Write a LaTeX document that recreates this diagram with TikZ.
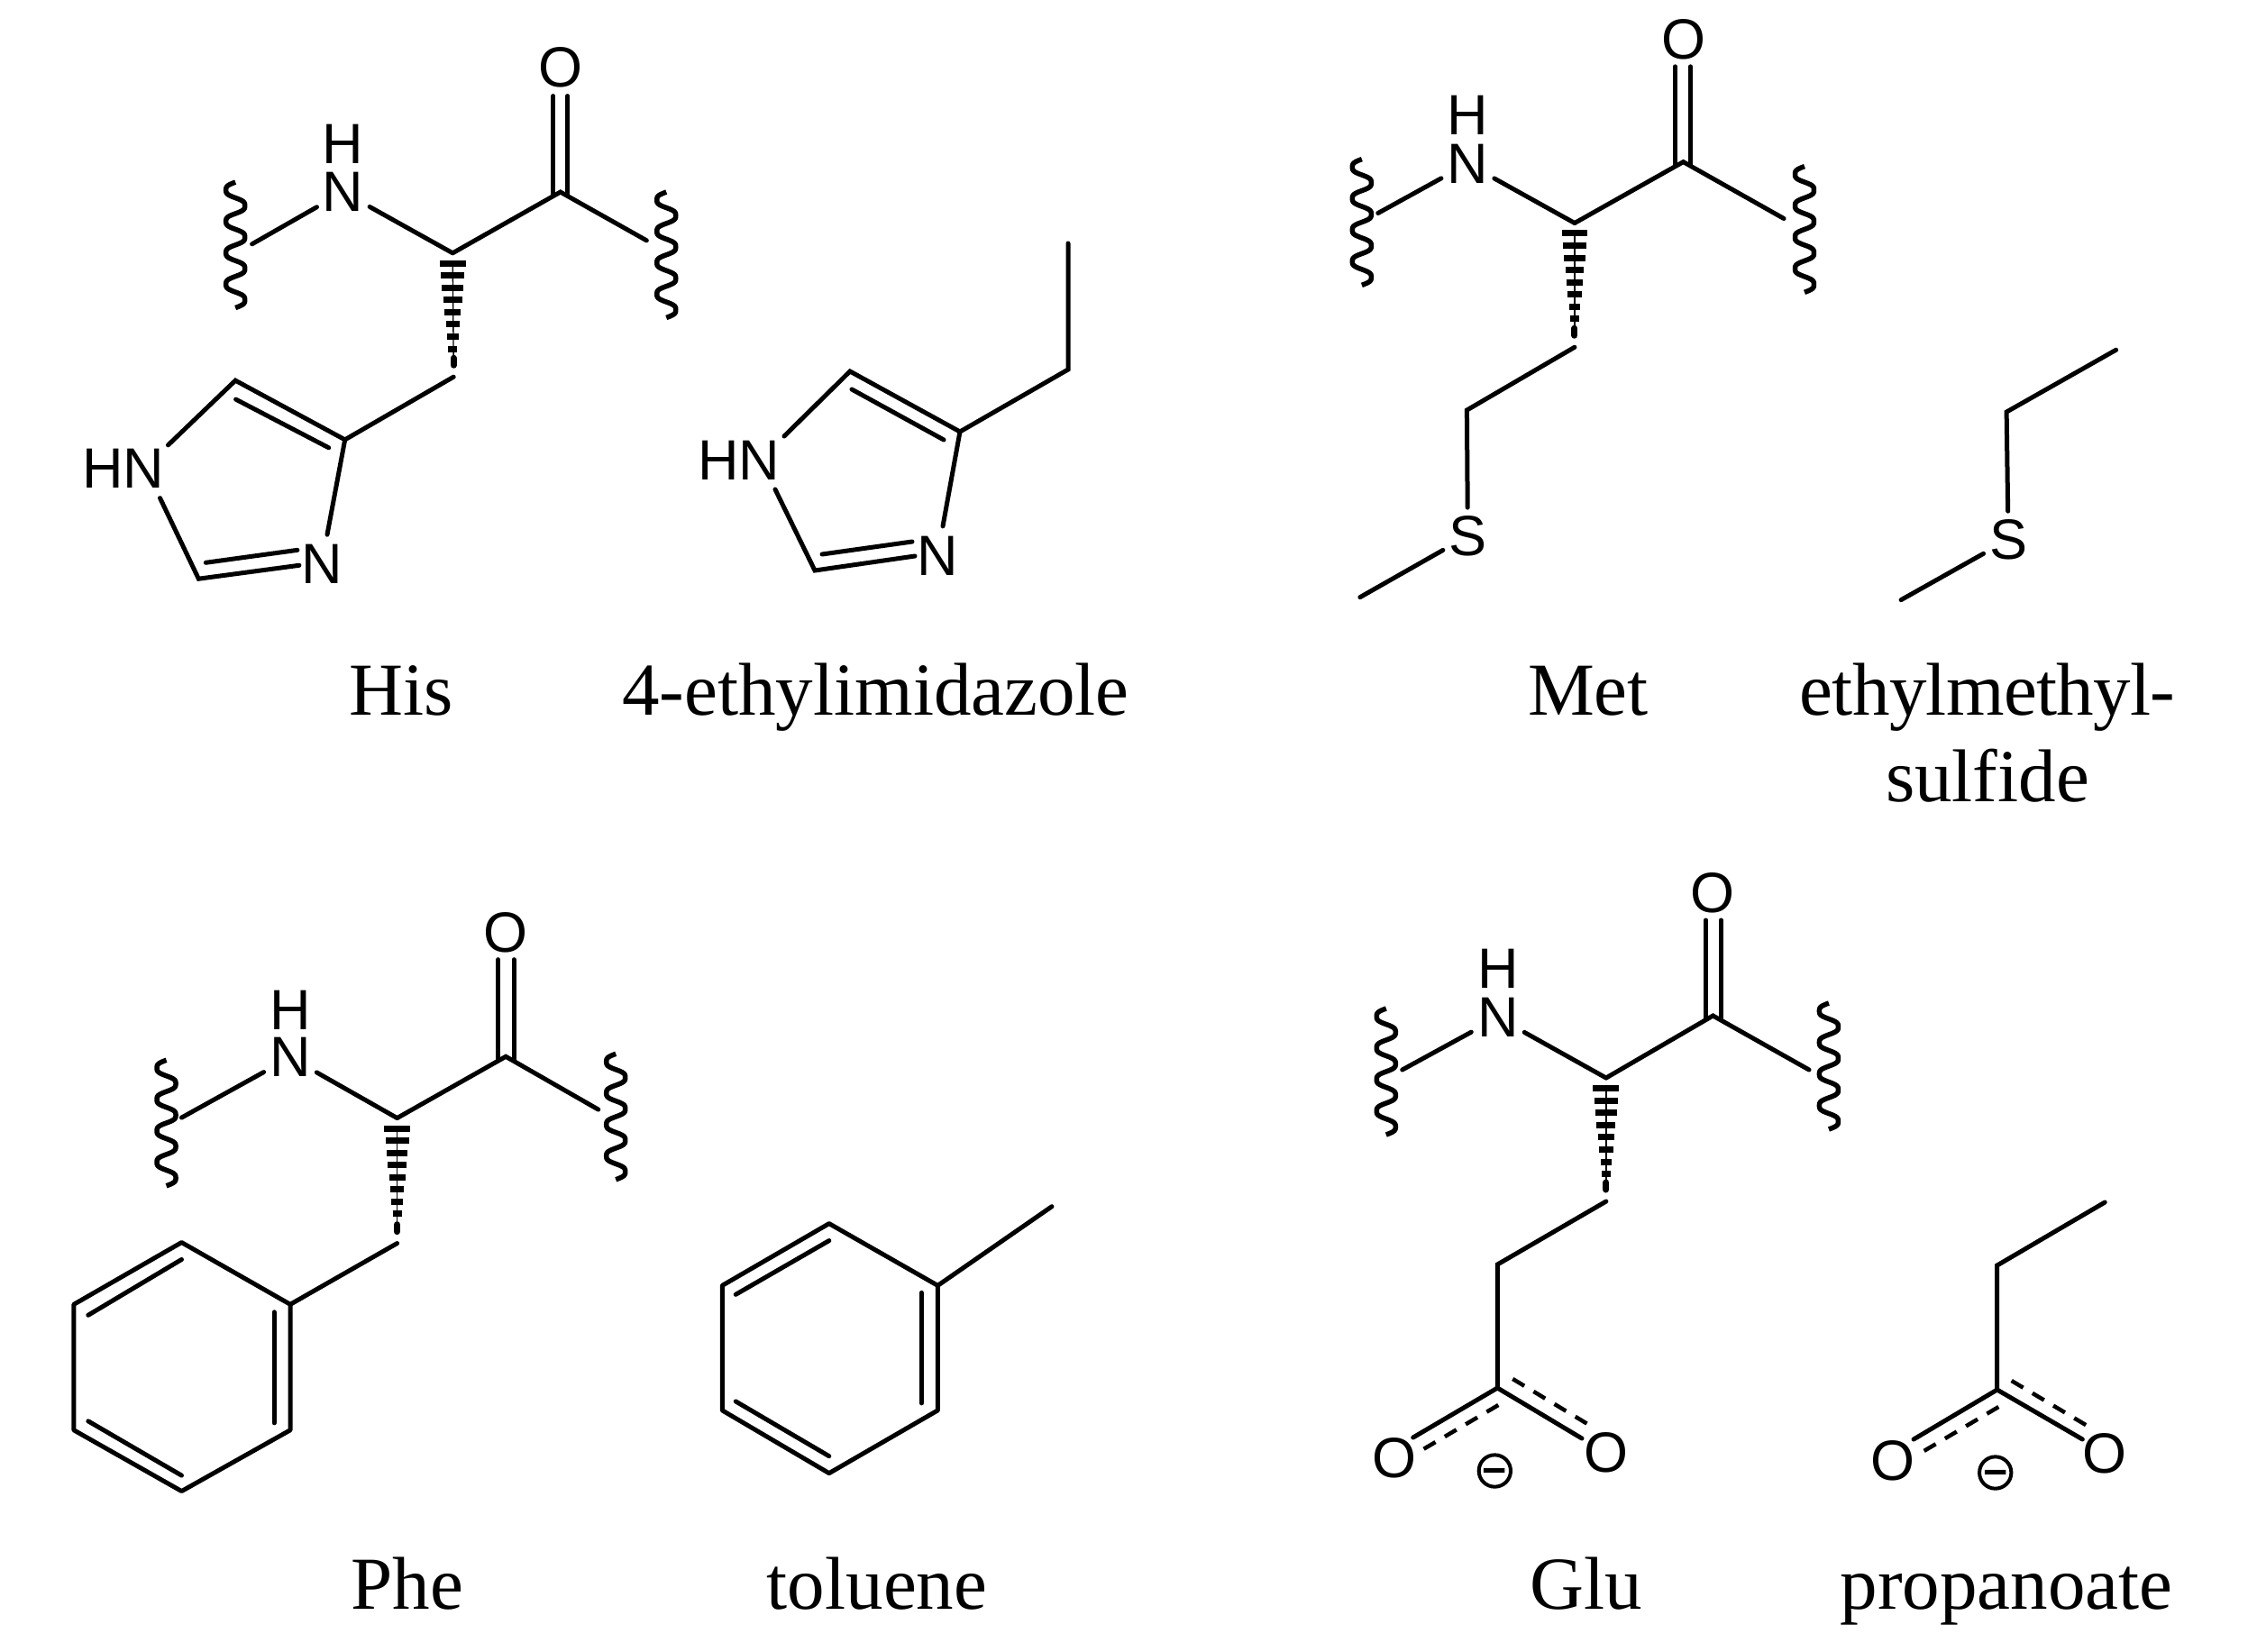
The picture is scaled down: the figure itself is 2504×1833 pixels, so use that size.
\documentclass[tikz,border=0pt]{standalone}
\usepackage{fontspec}
\setmainfont{Liberation Serif}
\newfontfamily\atomfont{Liberation Sans}
\usetikzlibrary{calc}
\tikzset{
  bond/.style={line width=1.5pt,line cap=round,line join=miter},
  dbond/.style={line width=1.35pt,dash pattern=on 4.5pt off 3.6pt},
  wavebond/.style={line width=1.65pt,line cap=butt,line join=round},
  atom/.style={circle,inner sep=0pt,minimum size=19.8pt,font=\atomfont\fontsize{18.9}{20}\selectfont},
  satom/.style={atom,minimum size=18.6pt},
  hatom/.style={inner sep=0pt,font=\atomfont\fontsize{18.9}{20}\selectfont},
  label/.style={inner sep=0pt,anchor=base,align=center,font=\fontsize{24.9}{28.8}\selectfont},
  charge/.style={circle,draw,line width=1.2pt,inner sep=0pt,minimum size=10.6pt,font=\atomfont\bfseries\fontsize{14}{14}\selectfont},
}
\newcommand{\wavebd}[3]{\draw[wavebond] plot[domain=0:1440,samples=97,smooth,variable=\a]
  ({#1-11.7*(sin(\a)+0.1*sin(3*\a))},{#2+\a/1440*(#3)});}
\newcommand{\hashbd}[2]{%
  \foreach \i in {0,...,7}{%
    \pgfmathsetmacro\hw{14.5-1.35*\i}\pgfmathsetmacro\hy{11.5+13.6*\i}%
    \fill ($(#1)+(-\hw,\hy-3.5)$) rectangle ($(#1)+(\hw,\hy+3.5)$);}%
  \draw[line width=.4pt] ($(#1)+(0,10)$) -- ($(#2)+(0,-17)$);
  \draw[line width=2.1pt,line cap=round] ($(#2)+(0,-21)$) -- ($(#2)+(0,-13)$);}
\newcommand{\chargemark}[3]{\node[charge] (#1) at (#2,#3) {\smash{\raisebox{-0.33em}{−}}};}
\begin{document}
\begin{tikzpicture}[x=0.3pt,y=-0.3pt]
\useasboundingbox (0,0) rectangle (2504,1833);

% ---------- His ----------
\begin{scope}[x=0.2988pt,y=-0.29871pt,xshift=0.072pt]
\node[atom] (hN) at (382,214) {N};
\node[hatom] (hH) at (382,161) {H};
\node[atom] (hO) at (624,75) {O};
\node[hatom] (hHN) at (137,522) {HN};
\node[atom] (hN3) at (358,629) {N};
\coordinate (hL) at (280.5,272);
\coordinate (hCa) at (504,282);
\coordinate (hC) at (624,214);
\coordinate (hR) at (720,268);
\coordinate (hCb) at (505,420);
\coordinate (hC4) at (384,490);
\coordinate (hC5) at (262,424);
\coordinate (hC2) at (221,645);
\coordinate (hHNa) at (187,496);
\coordinate (hHNb) at (178,555);
\coordinate (hNa) at (333,630);
\coordinate (hI1) at (262.4,445);
\coordinate (hI2) at (366,499);
\coordinate (hI3) at (229,627);
\coordinate (hI4) at (331,613);
\coordinate (hOa) at (616,107);
\coordinate (hOb) at (616,218);
\coordinate (hOc) at (632,107);
\coordinate (hOd) at (632,218);
\wavebd{262}{203}{140}
\wavebd{742}{214}{140}
\draw[bond] (hL) -- (hN);
\draw[bond] (hCa) -- (hN);
\draw[bond] (hCa) -- (hC) -- (hR);
\draw[bond] (hOa) -- (hOb);
\draw[bond] (hOc) -- (hOd);
\hashbd{hCa}{hCb}
\draw[bond] (hCb) -- (hC4) -- (hC5) -- (hHNa);
\draw[bond] (hC4) -- (hN3);
\draw[bond] (hHNb) -- (hC2) -- (hNa);
\draw[bond] (hI1) -- (hI2);
\draw[bond] (hI3) -- (hI4);
\end{scope}

% ---------- 4-ethylimidazole ----------
\node[hatom] (iHN) at (820,511) {HN};
\node[atom] (iN3) at (1040,617) {N};
\coordinate (iMe) at (1185,270);
\coordinate (iCb) at (1185,410);
\coordinate (iC4) at (1065,479);
\coordinate (iC5) at (943,412);
\coordinate (iC2) at (904,633);
\coordinate (iHNa) at (870,484);
\coordinate (iHNb) at (860,543);
\coordinate (iNa) at (1015,617);
\coordinate (iI1) at (945,432);
\coordinate (iI2) at (1047,488);
\coordinate (iI3) at (912,615);
\coordinate (iI4) at (1012,601);
\draw[bond] (iMe) -- (iCb) -- (iC4) -- (iC5) -- (iHNa);
\draw[bond] (iC4) -- (iN3);
\draw[bond] (iHNb) -- (iC2) -- (iNa);
\draw[bond] (iI1) -- (iI2);
\draw[bond] (iI3) -- (iI4);

% ---------- Met and ethylmethylsulfide ----------
\begin{scope}[x=0.29886pt,y=-0.2994pt,xshift=1.687pt]
\node[atom] (mN) at (1629,182) {N};
\node[hatom] (mH) at (1629,128) {H};
\node[atom] (mO) at (1869,43.5) {O};
\node[satom] (mS) at (1629,596) {S};
\coordinate (mL) at (1529,237);
\coordinate (mCa) at (1748,248);
\coordinate (mC) at (1869,180);
\coordinate (mR) at (1981,243);
\coordinate (mCb) at (1748,386);
\coordinate (mCg) at (1628,456);
\coordinate (mMe) at (1509,664);
\coordinate (mOa) at (1860,74);
\coordinate (mOb) at (1860,184);
\coordinate (mOc) at (1877,74);
\coordinate (mOd) at (1877,184);
\wavebd{1511}{177}{140}
\wavebd{2004}{185}{140}
\draw[bond] (mL) -- (mN);
\draw[bond] (mCa) -- (mN);
\draw[bond] (mCa) -- (mC) -- (mR);
\draw[bond] (mOa) -- (mOb);
\draw[bond] (mOc) -- (mOd);
\hashbd{mCa}{mCb}
\draw[bond] (mCb) -- (mCg) -- (mS);
\draw[bond] (mMe) -- (mS);

\begin{scope}[xshift=-0.6pt]
\node[satom] (eS) at (2233,600) {S};
\coordinate (eMe) at (2353,389);
\coordinate (eC) at (2231,458);
\coordinate (eMe2) at (2113.5,667);
\draw[bond] (eMe) -- (eC) -- (eS);
\draw[bond] (eMe2) -- (eS);
\end{scope}
\end{scope}

% ---------- Phe and toluene ----------
\begin{scope}[x=0.2989pt,y=-0.29892pt,xshift=0.066pt,yshift=-1.058pt]
\node[atom] (pN) at (323,1174) {N};
\node[hatom] (pH) at (323,1121) {H};
\node[atom] (pO) at (563,1035) {O};
\coordinate (pL) at (202,1241);
\coordinate (pCa) at (442,1241.5);
\coordinate (pC) at (563,1173);
\coordinate (pR) at (666,1232);
\coordinate (pCb) at (442,1381);
\coordinate (pR1) at (323,1449);
\coordinate (pR2) at (202,1380);
\coordinate (pR3) at (82,1449);
\coordinate (pR4) at (82,1589);
\coordinate (pR5) at (202,1657);
\coordinate (pR6) at (323,1589);
\coordinate (pI1) at (98,1461);
\coordinate (pI2) at (202,1399);
\coordinate (pI3) at (305,1457.5);
\coordinate (pI4) at (305,1581);
\coordinate (pI5) at (98,1579);
\coordinate (pI6) at (202,1639.5);
\coordinate (pOa) at (554.5,1065);
\coordinate (pOb) at (554.5,1177);
\coordinate (pOc) at (572,1065);
\coordinate (pOd) at (572,1177);
\wavebd{185}{1177}{140}
\wavebd{685.5}{1170}{140}
\draw[bond] (pL) -- (pN);
\draw[bond] (pCa) -- (pN);
\draw[bond] (pCa) -- (pC) -- (pR);
\draw[bond] (pOa) -- (pOb);
\draw[bond] (pOc) -- (pOd);
\hashbd{pCa}{pCb}
\draw[bond] (pCb) -- (pR1);
\draw[bond,line join=round] (pR1) -- (pR2) -- (pR3) -- (pR4) -- (pR5) -- (pR6) -- cycle;
\draw[bond] (pI1) -- (pI2);
\draw[bond] (pI3) -- (pI4);
\draw[bond] (pI5) -- (pI6);

\begin{scope}[xshift=-0.9pt]
\coordinate (tMe) at (1174,1340);
\coordinate (tR1) at (1047,1428);
\coordinate (tR2) at (926,1359);
\coordinate (tR3) at (807,1428);
\coordinate (tR4) at (807,1567);
\coordinate (tR5) at (926,1637);
\coordinate (tR6) at (1047,1567);
\coordinate (tI1) at (822,1438);
\coordinate (tI2) at (926,1378);
\coordinate (tI3) at (1029,1436);
\coordinate (tI4) at (1029,1559);
\coordinate (tI5) at (822,1557);
\coordinate (tI6) at (926,1618);
\draw[bond] (tMe) -- (tR1);
\draw[bond,line join=round] (tR1) -- (tR2) -- (tR3) -- (tR4) -- (tR5) -- (tR6) -- cycle;
\draw[bond] (tI1) -- (tI2);
\draw[bond] (tI3) -- (tI4);
\draw[bond] (tI5) -- (tI6);
\end{scope}
\end{scope}

% ---------- Glu and propanoate ----------
\begin{scope}[x=0.29886pt,xshift=1.699pt]
\node[atom] (gN) at (1662.5,1129) {N};
\node[hatom] (gH) at (1662.5,1075) {H};
\node[atom] (gO) at (1902,991) {O};
\node[atom] (gO1) at (1547,1618) {O};
\node[atom] (gO2) at (1783,1612) {O};
\chargemark{gM}{1659}{1632}
\coordinate (gL) at (1556,1187);
\coordinate (gCa) at (1783,1196);
\coordinate (gC) at (1902,1127);
\coordinate (gR) at (2009,1187);
\coordinate (gCb) at (1783,1333);
\coordinate (gCg) at (1662,1403);
\coordinate (gCd) at (1662,1540);
\coordinate (gOa) at (1894,1021);
\coordinate (gOb) at (1894,1131);
\coordinate (gOc) at (1911,1021);
\coordinate (gOd) at (1911,1131);
\coordinate (gE1) at (1568,1595);
\coordinate (gE2) at (1756,1596);
\coordinate (gD1) at (1663,1559);
\coordinate (gD2) at (1576,1610);
\coordinate (gD3) at (1679,1530);
\coordinate (gD4) at (1764,1581);
\wavebd{1538}{1119}{140}
\wavebd{2031}{1113}{140}
\draw[bond] (gL) -- (gN);
\draw[bond] (gCa) -- (gN);
\draw[bond] (gCa) -- (gC) -- (gR);
\draw[bond] (gOa) -- (gOb);
\draw[bond] (gOc) -- (gOd);
\hashbd{gCa}{gCb}
\draw[bond] (gCb) -- (gCg) -- (gCd);
\draw[bond] (gCd) -- (gE1);
\draw[bond] (gCd) -- (gE2);
\draw[dbond] (gD1) -- (gD2);
\draw[dbond] (gD3) -- (gD4);

\begin{scope}[xshift=-0.75pt]
\node[atom] (aO1) at (2104.5,1621) {O};
\node[atom] (aO2) at (2341,1613) {O};
\chargemark{aM}{2219}{1634}
\coordinate (aMe) at (2341,1334);
\coordinate (aCb) at (2221,1404);
\coordinate (aC) at (2221,1542);
\coordinate (aE1) at (2128,1597);
\coordinate (aE2) at (2316,1597);
\coordinate (aD1) at (2222.6,1561);
\coordinate (aD2) at (2136,1612);
\coordinate (aD3) at (2237,1532);
\coordinate (aD4) at (2323,1583);
\draw[bond] (aMe) -- (aCb) -- (aC);
\draw[bond] (aC) -- (aE1);
\draw[bond] (aC) -- (aE2);
\draw[dbond] (aD1) -- (aD2);
\draw[dbond] (aD3) -- (aD4);
\end{scope}
\end{scope}

% ---------- labels ----------
\node[label] (lHis) at (445,793) {His};
\node[label] (lImi) at (971.5,793) {4-ethylimidazole};
\node[label] (lMet) at (1762,793) {Met};
\node[label] (lEms) at (2205,889) {{\addfontfeature{LetterSpace=-0.8}ethylmethyl-}\\sulfide};
\node[label] (lPhe) at (452,1785) {Phe};
\node[label] (lTol) at (973,1785) {toluene};
\node[label] (lGlu) at (1760,1785) {Glu};
\node[label] (lPro) at (2226,1785) {propanoate};
\end{tikzpicture}
\end{document}
